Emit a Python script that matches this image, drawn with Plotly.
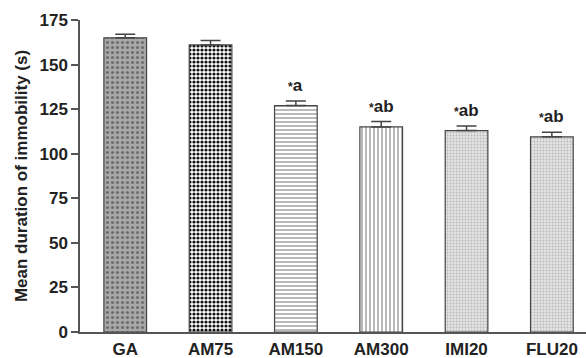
import plotly.graph_objects as go

groups = ["GA", "AM75", "AM150", "AM300", "IMI20", "FLU20"]
means = [165, 161, 127, 115, 113, 109.5]
sems = [2, 2.5, 2.5, 3, 2.5, 2.5]
sig_labels = ["", "", "a", "ab", "ab", "ab"]

shapes = [".", ".", "-", "|", ".", "."]
bgcolors = ["#a8a8a8", "#ffffff", "#ffffff", "#ffffff", "#e4e4e4", "#e4e4e4"]
fgcolors = ["#6e6e6e", "#111111", "#8a8a8a", "#8a8a8a", "#b8b8b8", "#b8b8b8"]
psizes = [5, 4, 4, 4, 3, 3]
solid = [0.3, 0.5, 0.3, 0.3, 0.3, 0.3]

FONT = "Liberation Sans, Arial, sans-serif"

fig = go.Figure()
for i, g in enumerate(groups):
    fig.add_trace(go.Bar(
        x=[g], y=[means[i]], width=0.5,
        marker=dict(
            color=bgcolors[i],
            line=dict(color="#444444", width=1.2),
            pattern=dict(shape=shapes[i], bgcolor=bgcolors[i],
                         fgcolor=fgcolors[i], size=psizes[i],
                         solidity=solid[i], fillmode="replace"),
        ),
        error_y=dict(type="data", symmetric=False, array=[sems[i]],
                     arrayminus=[0], color="#444444",
                     thickness=1.5, width=10),
        showlegend=False,
    ))

for g, m, s, lab in zip(groups, means, sems, sig_labels):
    if lab:
        fig.add_annotation(
            x=g, y=m + s, yanchor="bottom", yshift=4, showarrow=False,
            text="<span style='font-size:12px'>*</span>" + lab,
            font=dict(family=FONT, size=17, color="#222222", weight="bold"),
        )

fig.update_layout(
    width=586, height=358,
    margin=dict(l=80, r=0, t=20, b=26),
    paper_bgcolor="white", plot_bgcolor="white",
    barmode="overlay",
    font=dict(family=FONT, color="#222222"),
)
fig.update_xaxes(
    range=[-0.53, 5.4], showline=True, linecolor="#555555", linewidth=1.5,
    ticks="", showgrid=False, automargin=False, ticklabelstandoff=1,
    tickfont=dict(family=FONT, size=17, color="#222222", weight="bold"),
)
fig.update_yaxes(
    range=[0, 175], tickvals=[0, 25, 50, 75, 100, 125, 150, 175],
    showline=True, linecolor="#555555", linewidth=1.5,
    ticks="outside", ticklen=7, tickcolor="#555555", tickwidth=1.5,
    showgrid=False, zeroline=False, automargin=False,
    tickfont=dict(family=FONT, size=17, color="#222222", weight="bold"),
    title=dict(text="Mean duration of immobility (s)", standoff=8,
               font=dict(family=FONT, size=17, color="#222222", weight="bold")),
)

fig.write_html("out.html", config={"displayModeBar": False},
               post_script="document.body.style.margin='0px';"
                           "document.body.style.overflow='hidden';")
